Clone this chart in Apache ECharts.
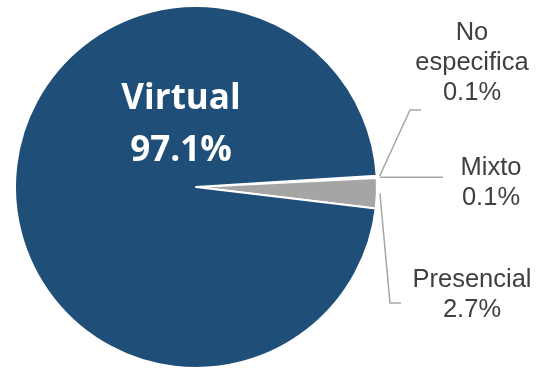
<!DOCTYPE html>
<html>
<head>
<meta charset="utf-8">
<script src="https://cdn.jsdelivr.net/npm/echarts@6/dist/echarts.min.js"></script>
<style>
  html, body { margin: 0; padding: 0; background: #ffffff; }
  #chart { width: 539px; height: 369px; }
</style>
</head>
<body>
<div id="chart"></div>
<script>
// Modalidad: shares in percent, listed clockwise from the small slices
const categories = ['No especifica', 'Mixto', 'Presencial', 'Virtual'];
const shares = [0.1, 0.1, 2.7, 97.1];

// Slice fills, same order as categories
const sliceColors = ['#A5A5A5', '#A5A5A5', '#A5A5A5', '#1F4E79'];

const chart = echarts.init(document.getElementById('chart'), null, { renderer: 'canvas' });

const CX = 196, CY = 187, R = 181;

// Where each outside label sits and how its leader line bends
const labelSpots = {
  'No especifica': { x: 472, y: 63, bend: [410, 110], end: [421, 110] },
  'Mixto':         { x: 491, y: 183, bend: null, end: [443, 176] },
  'Presencial':    { x: 472, y: 295, bend: [390, 303], end: [401, 303] }
};

function pushOut(pt, by) {
  const dx = pt[0] - CX, dy = pt[1] - CY;
  const len = Math.sqrt(dx * dx + dy * dy) || 1;
  return [pt[0] + dx / len * by, pt[1] + dy / len * by];
}

const data = categories.map((name, i) => {
  const item = {
    name: name,
    value: shares[i],
    itemStyle: { color: sliceColors[i] }
  };
  if (name === 'Virtual') {
    item.label = {
      position: 'inside',
      color: '#ffffff',
      fontFamily: 'Open Sans',
      fontWeight: 'bold',
      fontSize: 35,
      lineHeight: 52
    };
    item.labelLine = { show: false };
  }
  return item;
});

chart.setOption({
  animation: false,
  backgroundColor: '#ffffff',
  series: [{
    type: 'pie',
    center: [CX, CY],
    radius: R,
    startAngle: 3.6,
    clockwise: true,
    avoidLabelOverlap: false,
    silent: true,
    itemStyle: { borderColor: '#ffffff', borderWidth: 2 },
    label: {
      show: true,
      position: 'outside',
      // long names break onto two lines
      formatter: p => p.name.split(' ').join('\n') + '\n' + p.value.toFixed(1) + '%',
      fontFamily: 'Liberation Sans, Arial, sans-serif',
      fontSize: 25.5,
      lineHeight: 30,
      color: '#404040',
      align: 'center'
    },
    labelLine: {
      show: true,
      smooth: false,
      lineStyle: { color: '#A6A6A6', width: 1.5 }
    },
    labelLayout: function (p) {
      const name = categories[p.dataIndex];
      if (name === 'Virtual') {
        return { x: 181, y: 125, align: 'center', verticalAlign: 'middle' };
      }
      const spot = labelSpots[name];
      const out = { x: spot.x, y: spot.y, align: 'center', verticalAlign: 'middle' };
      if (p.labelLinePoints && p.labelLinePoints.length) {
        const start = pushOut(p.labelLinePoints[0], 3);
        out.labelLinePoints = spot.bend
          ? [start, spot.bend, spot.end]
          : [start, [spot.end[0] - 20, start[1]], [spot.end[0], start[1]]];
      }
      return out;
    },
    data: data
  }]
});
</script>
</body>
</html>
